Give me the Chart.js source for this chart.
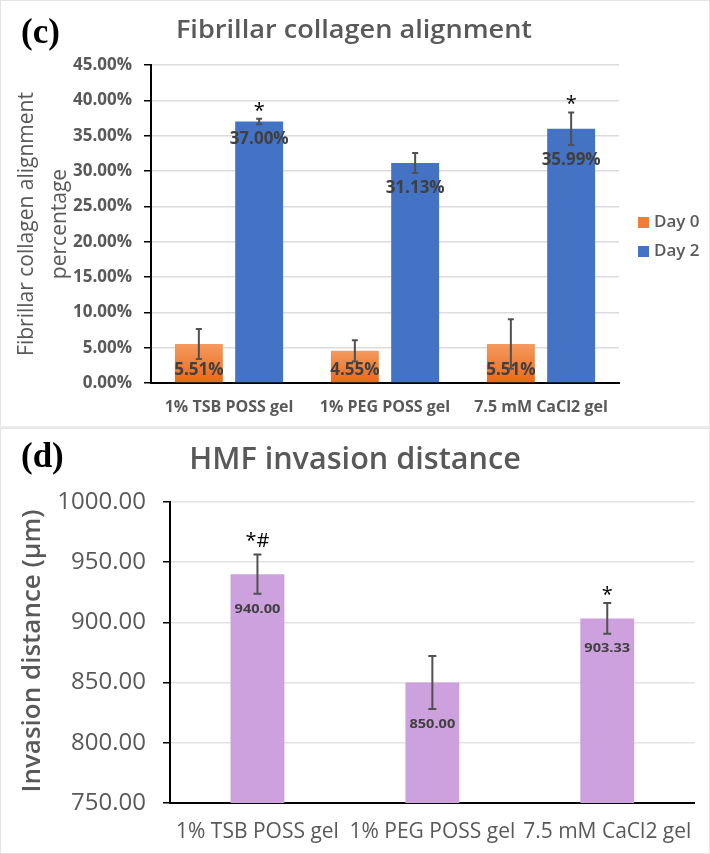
<!DOCTYPE html>
<html lang="en">
<head>
<meta charset="UTF-8">
<title>Collagen alignment and HMF invasion</title>
<script src="https://cdn.jsdelivr.net/npm/chart.js@4.4.1/dist/chart.umd.min.js"></script>
<style>
    body { margin: 0; background: #fff; }
    .panel { position: absolute; left: 0; width: 708px; border: 1px solid #e3e3e3; }
    #p1 { top: 0; height: 425px; }
    #p2 { top: 428px; height: 424px; }
    .gap { position: absolute; left: 0; top: 426px; width: 710px; height: 3px; background: #ebebeb; }
</style>
</head>
<body>
<div class="panel" id="p1"><canvas id="chart1" width="708" height="425"></canvas></div>
<div class="gap"></div>
<div class="panel" id="p2"><canvas id="chart2" width="708" height="424"></canvas></div>
<script>
    // gel groups (same for both panels)
    const gels = ['1% TSB POSS gel', '1% PEG POSS gel', '7.5 mM CaCl2 gel'];

    // (c) fibrillar collagen alignment, in percent
    const day0 = [5.51, 4.55, 5.51];
    const day0Err = [2.12, 1.5, 3.5];
    const day0Marks = ['', '', ''];
    const day2 = [37.00, 31.13, 35.99];
    const day2Err = [0.4, 1.4, 2.3];
    const day2Marks = ['*', '', '*'];
    const alignTicks = [0, 5, 10, 15, 20, 25, 30, 35, 40, 45];

    // (d) HMF invasion distance, in µm
    const invasion = [940.00, 850.00, 903.33];
    const invasionErr = [16.3, 22, 12.7];
    const invasionMarks = ['*#', '', '*'];
    const invasionTicks = [750, 800, 850, 900, 950, 1000];

    const GRAY = '#595959';
    const DARK = '#404040';
    const SANS = "'Open Sans', sans-serif";

    // excel style orange gradient, light at the top of each bar
    function orangeFill(c) {
        const chart = c.chart;
        if (!chart.chartArea || !chart.scales.y) return '#ED7D31';
        const y = chart.scales.y;
        const v = c.raw;
        const top = y.getPixelForValue(v), bot = y.getPixelForValue(0);
        if (!isFinite(top) || bot - top < 1) return '#ED7D31';
        const g = chart.ctx.createLinearGradient(0, top, 0, bot);
        g.addColorStop(0, '#F49A5E');
        g.addColorStop(1, '#E9681A');
        return g;
    }

    // text a bit wider than the font, like the stretched original
    function wideText(ctx, t, x, y, sx) {
        ctx.save();
        ctx.translate(x, y);
        ctx.scale(sx, 1);
        ctx.fillText(t, 0, 0);
        ctx.restore();
    }

    const overlay = {
        id: 'overlay',
        afterDatasetsDraw(chart, args, opts) {
            const ctx = chart.ctx;
            const y = chart.scales.y;
            const base = y.getPixelForValue(y.min);
            chart.data.datasets.forEach((ds, i) => {
                const meta = chart.getDatasetMeta(i);
                meta.data.forEach((bar, j) => {
                    const v = ds.data[j], e = ds.err[j];
                    const hi = y.getPixelForValue(v + e), lo = y.getPixelForValue(v - e);
                    // value label, just under the error bar
                    ctx.save();
                    ctx.font = opts.labelFont;
                    ctx.fillStyle = DARK;
                    ctx.textAlign = 'center';
                    ctx.textBaseline = 'middle';
                    const ly = Math.min(lo + opts.labelGap, base - opts.labelMin);
                    wideText(ctx, opts.fmt(v), bar.x, ly, opts.sx);
                    // error bar
                    ctx.strokeStyle = '#505050';
                    ctx.lineWidth = 2;
                    ctx.beginPath();
                    ctx.moveTo(bar.x, hi); ctx.lineTo(bar.x, lo);
                    ctx.moveTo(bar.x - opts.cap, hi); ctx.lineTo(bar.x + opts.cap, hi);
                    ctx.moveTo(bar.x - opts.cap, lo); ctx.lineTo(bar.x + opts.cap, lo);
                    ctx.stroke();
                    // significance marks
                    const m = ds.marks[j];
                    if (m) {
                        ctx.font = opts.markFont;
                        ctx.fillStyle = '#000';
                        ctx.textBaseline = 'alphabetic';
                        const d = ctx.measureText(m).actualBoundingBoxDescent;
                        ctx.fillText(m, bar.x, hi - 8 - d);
                    }
                    ctx.restore();
                });
            });
        },
        afterDraw(chart, args, opts) {
            const ctx = chart.ctx;
            ctx.save();
            ctx.fillStyle = '#000';
            ctx.font = "bold 35px 'Liberation Serif', serif";
            ctx.textAlign = 'left';
            ctx.textBaseline = 'alphabetic';
            ctx.fillText(opts.panel, 20, opts.panelY);

            ctx.fillStyle = GRAY;
            ctx.font = opts.titleFont;
            ctx.textAlign = 'center';
            wideText(ctx, opts.title, opts.titleX, opts.titleY, opts.titleSx);

            // rotated y axis title
            ctx.font = opts.yTitleFont;
            ctx.textBaseline = 'middle';
            opts.yTitle.forEach((t, k) => {
                ctx.save();
                ctx.translate(opts.yTitleX[k], opts.yTitleY);
                ctx.rotate(-Math.PI / 2);
                ctx.fillText(t, 0, 0);
                ctx.restore();
            });

            // legend on the right
            if (opts.legend) {
                ctx.font = '600 17px ' + SANS;
                ctx.textAlign = 'left';
                chart.data.datasets.forEach((ds, i) => {
                    const cy = 221.5 + i * 29;
                    ctx.fillStyle = ds.legendColor;
                    ctx.fillRect(637, cy - 5.5, 11, 11);
                    ctx.fillStyle = GRAY;
                    ctx.fillText(ds.label, 653, cy);
                });
            }
            ctx.restore();
        }
    };

    new Chart(document.getElementById('chart1'), {
        type: 'bar',
        data: {
            labels: gels,
            datasets: [
                { label: 'Day 0', data: day0, err: day0Err, marks: day0Marks, backgroundColor: orangeFill, legendColor: '#EE7D36',
                  categoryPercentage: 0.773, barPercentage: 0.795 },
                { label: 'Day 2', data: day2, err: day2Err, marks: day2Marks, backgroundColor: '#4472C4', legendColor: '#4472C4',
                  categoryPercentage: 0.773, barPercentage: 0.795 }
            ]
        },
        options: {
            responsive: false,
            animation: false,
            layout: { padding: { top: 64, right: 90, left: 0, bottom: 0 } },
            plugins: {
                legend: { display: false },
                tooltip: { enabled: false },
                overlay: {
                    panel: '(c)', panelY: 42,
                    title: 'Fibrillar collagen alignment', titleFont: '600 25px ' + SANS, titleX: 353, titleY: 37, titleSx: 1.085,
                    yTitle: ['Fibrillar collagen alignment', 'percentage'], yTitleFont: '21px ' + SANS,
                    yTitleX: [26, 59], yTitleY: 223,
                    legend: true,
                    labelFont: 'bold 17px ' + SANS, labelGap: 15, labelMin: 13, sx: 1,
                    markFont: '20px ' + SANS, cap: 3,
                    fmt: v => v.toFixed(2) + '%'
                }
            },
            scales: {
                x: {
                    grid: { display: false, drawTicks: false },
                    border: { color: '#000', width: 2 },
                    ticks: { color: GRAY, font: { family: SANS, size: 16, weight: 'bold' }, padding: 15 },
                    afterFit(s) { s.height = 43; }
                },
                y: {
                    min: 0, max: 45,
                    afterBuildTicks(s) { s.ticks = alignTicks.map(v => ({ value: v })); },
                    grid: { color: '#DCDCDC', lineWidth: 1.5, tickColor: '#000', tickLength: 7 },
                    border: { color: '#000', width: 2 },
                    ticks: { color: GRAY, font: { family: SANS, size: 17, weight: 'bold' }, padding: 12,
                             callback: v => v.toFixed(2) + '%' },
                    afterFit(s) { s.width = 150; }
                }
            }
        },
        plugins: [overlay]
    });

    new Chart(document.getElementById('chart2'), {
        type: 'bar',
        data: {
            labels: gels,
            datasets: [
                { label: 'HMF invasion', data: invasion, err: invasionErr, marks: invasionMarks, backgroundColor: '#CDA0DE',
                  categoryPercentage: 0.8, barPercentage: 0.385 }
            ]
        },
        options: {
            responsive: false,
            animation: false,
            layout: { padding: { top: 73, right: 10, left: 0, bottom: 0 } },
            plugins: {
                legend: { display: false },
                tooltip: { enabled: false },
                overlay: {
                    panel: '(d)', panelY: 38,
                    title: 'HMF invasion distance', titleFont: '600 30px ' + SANS, titleX: 354, titleY: 40, titleSx: 1.02,
                    yTitle: ['Invasion distance (μm)'], yTitleFont: '600 26px ' + SANS,
                    yTitleX: [32], yTitleY: 222,
                    legend: false,
                    labelFont: 'bold 13px ' + SANS, labelGap: 15, labelMin: 13, sx: 1.12,
                    markFont: '20px ' + SANS, cap: 4,
                    fmt: v => v.toFixed(2)
                }
            },
            scales: {
                x: {
                    grid: { display: false, drawTicks: false },
                    border: { color: '#000', width: 2 },
                    ticks: { color: GRAY, font: { family: SANS, size: 21 }, padding: 16 },
                    afterFit(s) { s.height = 50; }
                },
                y: {
                    min: 750, max: 1000,
                    afterBuildTicks(s) { s.ticks = invasionTicks.map(v => ({ value: v })); },
                    grid: { color: '#E3E3E3', lineWidth: 1.5, tickColor: '#000', tickLength: 7 },
                    border: { color: '#000', width: 2 },
                    ticks: { color: GRAY, font: { family: SANS, size: 24 }, padding: 17,
                             callback: v => v.toFixed(2) },
                    afterFit(s) { s.width = 169; }
                }
            }
        },
        plugins: [overlay]
    });
</script>
</body>
</html>
